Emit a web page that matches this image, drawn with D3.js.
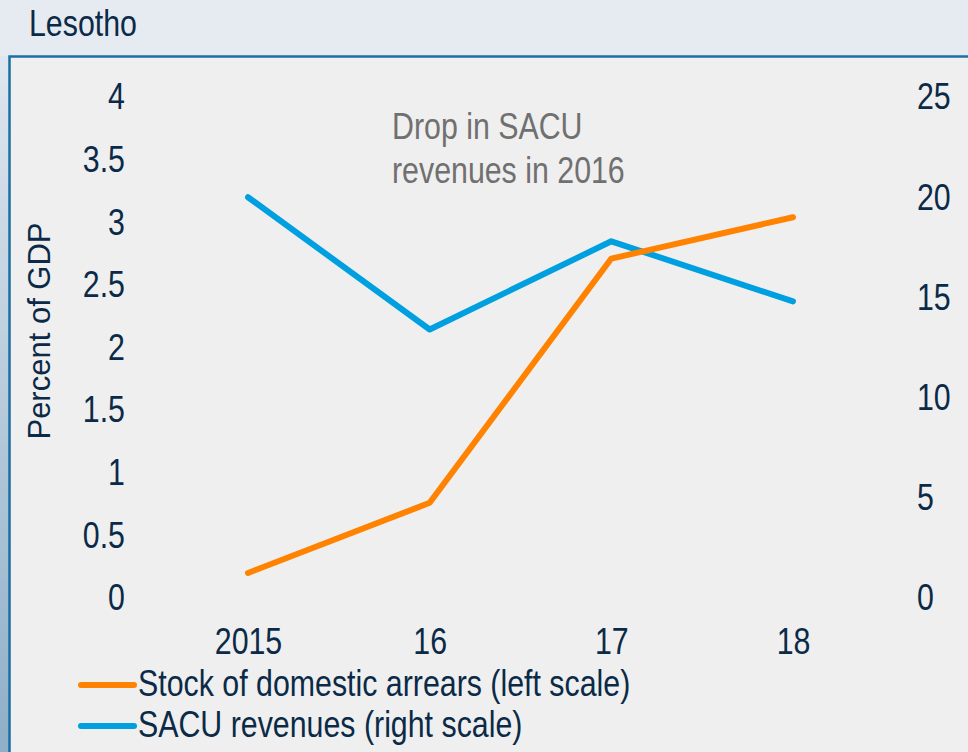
<!DOCTYPE html>
<html>
<head>
<meta charset="utf-8">
<script src="https://cdn.jsdelivr.net/npm/d3@7"></script>
<style>
  body { margin: 0; background: #e3e8ef; }
  svg { display: block; font-family: "Liberation Sans", Arial, sans-serif; }
</style>
</head>
<body>
<div id="chart"></div>
<script>
// data
const years = ["2015", "16", "17", "18"];
const arrears = [0.2, 0.76, 2.71, 3.04];    // percent of GDP, left scale
const sacu = [20.0, 13.4, 17.8, 14.8];      // right scale
const leftTicks = [0, 0.5, 1, 1.5, 2, 2.5, 3, 3.5, 4];
const rightTicks = [0, 5, 10, 15, 20, 25];
const seriesNames = ["Stock of domestic arrears (left scale)", "SACU revenues (right scale)"];
const noteLines = ["Drop in SACU", "revenues in 2016"];

const W = 968, H = 752;
const textCol = "#0b2a47";
const orange = "#ff8300", blue = "#00a0e0";
const squash = "scale(0.82,1)";

const svg = d3.select("#chart").append("svg")
    .attr("width", W)
    .attr("height", H);

const defs = svg.append("defs");
const bg = defs.append("linearGradient").attr("id", "bg").attr("x1", 0).attr("y1", 0).attr("x2", 0).attr("y2", 1);
bg.append("stop").attr("offset", 0).attr("stop-color", "#e6ebf1");
bg.append("stop").attr("offset", 1).attr("stop-color", "#dde4ec");
const strip = defs.append("linearGradient").attr("id", "strip").attr("x1", 0).attr("y1", 0).attr("x2", 0).attr("y2", 1);
strip.append("stop").attr("offset", 0).attr("stop-color", "#dfe6ee");
strip.append("stop").attr("offset", 1).attr("stop-color", "#8eafc8");

svg.append("rect").attr("width", W).attr("height", H).attr("fill", "url(#bg)");
svg.append("rect").attr("x", 0).attr("y", 56).attr("width", 9).attr("height", H - 56).attr("fill", "url(#strip)");

// panel
svg.append("rect")
    .attr("x", 9.5).attr("y", 56.5)
    .attr("width", W + 10).attr("height", H)
    .attr("fill", "#efefef")
    .attr("stroke", "#1a6fa3")
    .attr("stroke-width", 2.5);

svg.append("text")
    .attr("transform", "translate(29,36) " + squash)
    .attr("font-size", 37)
    .attr("fill", textCol)
    .text("Lesotho");

const x = d3.scalePoint().domain(years).range([248, 793]);
const yL = d3.scaleLinear().domain([0, 4]).range([598, 97]);
const yR = d3.scaleLinear().domain([0, 25]).range([598, 97]);

const left = svg.append("g")
    .attr("transform", "translate(125,0)")
    .call(d3.axisLeft(yL).tickValues(leftTicks).tickSize(0).tickPadding(0).tickFormat(d3.format("")));

const right = svg.append("g")
    .attr("transform", "translate(917,0)")
    .call(d3.axisRight(yR).tickValues(rightTicks).tickSize(0).tickPadding(0));

const bottom = svg.append("g")
    .attr("transform", "translate(0,598)")
    .call(d3.axisBottom(x).tickSize(0).tickPadding(0));
bottom.selectAll("text").attr("y", 56).attr("dy", 0);

[left, right, bottom].forEach(function(g) {
    g.select(".domain").remove();
    g.selectAll("text")
        .attr("font-size", 37)
        .attr("font-family", "Liberation Sans, Arial, sans-serif")
        .attr("fill", textCol)
        .attr("transform", squash);
});

svg.append("text")
    .attr("transform", "translate(50,331) rotate(-90)")
    .attr("text-anchor", "middle")
    .attr("font-size", 31)
    .attr("fill", textCol)
    .text("Percent of GDP");

// annotation
noteLines.forEach(function(t, i) {
    svg.append("text")
        .attr("transform", "translate(392," + (139 + i * 44) + ") " + squash)
        .attr("font-size", 37)
        .attr("fill", "#707070")
        .text(t);
});

const lineL = d3.line().x(function(d, i) { return x(years[i]); }).y(function(d) { return yL(d); });
const lineR = d3.line().x(function(d, i) { return x(years[i]); }).y(function(d) { return yR(d); });

svg.append("path")
    .attr("d", lineR(sacu))
    .attr("fill", "none")
    .attr("stroke", blue)
    .attr("stroke-width", 6)
    .attr("stroke-linecap", "round")
    .attr("stroke-linejoin", "round");

svg.append("path")
    .attr("d", lineL(arrears))
    .attr("fill", "none")
    .attr("stroke", orange)
    .attr("stroke-width", 6)
    .attr("stroke-linecap", "round")
    .attr("stroke-linejoin", "round");

// legend
const legend = svg.selectAll(".legend")
    .data(seriesNames)
    .enter().append("g")
        .attr("class", "legend")
        .attr("transform", function(d, i) { return "translate(0," + (685 + i * 41) + ")"; });

legend.append("line")
    .attr("x1", 81).attr("x2", 134)
    .attr("stroke", function(d, i) { return i === 0 ? orange : blue; })
    .attr("stroke-width", 6)
    .attr("stroke-linecap", "round");

legend.append("text")
    .attr("transform", "translate(138,11) " + squash)
    .attr("font-size", 37)
    .attr("fill", textCol)
    .text(function(d) { return d; });
</script>
</body>
</html>
